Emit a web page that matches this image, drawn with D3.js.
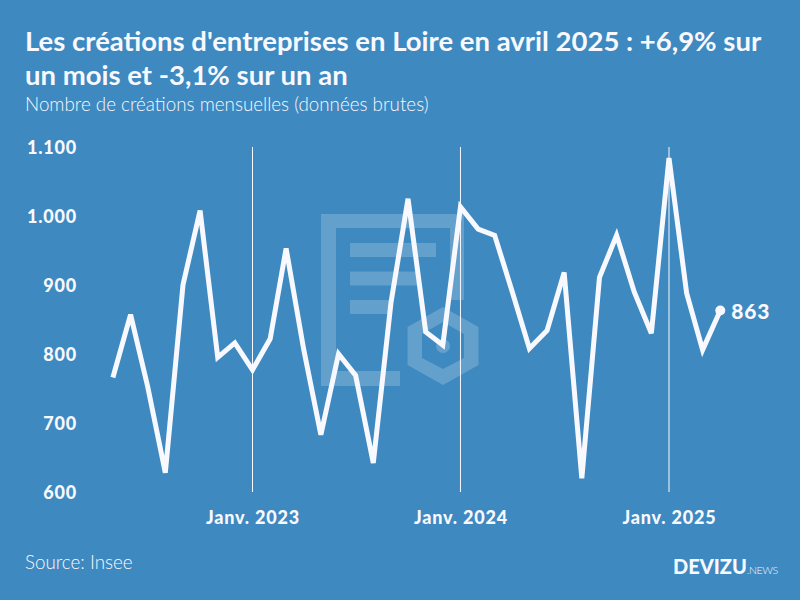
<!DOCTYPE html>
<html>
<head>
    <meta charset="UTF-8">
    <title>Créations d'entreprises Loire</title>
    <script src="https://cdnjs.cloudflare.com/ajax/libs/d3/7.8.5/d3.min.js"></script>
    <style>
        html, body { margin: 0; padding: 0; background: #3e89c0; }
        svg { display: block; }
        text { font-family: Lato, sans-serif; fill: #f8f8ff; }
        .title { font-size: 27.5px; font-weight: 700; }
        .subtitle { font-size: 18.8px; font-weight: 300; }
        .axis text { font-size: 18px; font-weight: 900; letter-spacing: 0.8px; }
        .axis path, .axis line { display: none; }
        .grid { stroke: #f8f8ff; stroke-width: 1; }
    </style>
</head>
<body>
    <div id="chart"></div>
    <script>
      var months = ["2022-05","2022-06","2022-07","2022-08","2022-09","2022-10","2022-11","2022-12",
                    "2023-01","2023-02","2023-03","2023-04","2023-05","2023-06","2023-07","2023-08","2023-09","2023-10","2023-11","2023-12",
                    "2024-01","2024-02","2024-03","2024-04","2024-05","2024-06","2024-07","2024-08","2024-09","2024-10","2024-11","2024-12",
                    "2025-01","2025-02","2025-03","2025-04"];
      var values = [766,857,753,628,900,1008,795,816,
                    777,822,953,806,683,800,769,642,874,1025,832,813,
                    1013,981,972,890,808,834,918,620,911,972,890,830,
                    1084,888,806,863];
      var yTicks = [600,700,800,900,1000,1100];
      var yearTicks = ["2023-01","2024-01","2025-01"];
      var yearLabels = ["Janv. 2023","Janv. 2024","Janv. 2025"];

      var parse = d3.timeParse("%Y-%m");
      var width = 800, height = 600;

      var svg = d3.select("#chart").append("svg")
          .attr("width", width).attr("height", height);

      var x = d3.scaleTime()
          .domain([parse("2023-01"), parse("2025-01")])
          .range([252.5, 669]);
      var y = d3.scaleLinear().domain([600, 1100]).range([492, 147]);

      // watermark logo behind the chart
      var logo = svg.append("g").attr("fill", "#fff").attr("fill-opacity", 0.2);
      logo.append("path").attr("fill-rule", "evenodd")
          .attr("d", "M321,214H464V300H450V228H336V371H400V386H321Z");
      logo.append("rect").attr("x", 350).attr("y", 243).attr("width", 86).attr("height", 14);
      logo.append("rect").attr("x", 350).attr("y", 271.5).attr("width", 67).attr("height", 14);
      logo.append("rect").attr("x", 350).attr("y", 300).attr("width", 40).attr("height", 14);
      logo.append("path").attr("fill-rule", "evenodd")
          .attr("d", "M443,307L478.5,327V365L443,385L407.5,365V327ZM443,322L422,334V358L443,369L464,358V334Z");
      logo.append("circle").attr("cx", 443).attr("cy", 346).attr("r", 7);

      // titles
      svg.append("text").attr("class", "title").attr("x", 25).attr("y", 51)
          .text("Les créations d'entreprises en Loire en avril 2025 : +6,9% sur");
      svg.append("text").attr("class", "title").attr("x", 25).attr("y", 84.5)
          .text("un mois et -3,1% sur un an");
      svg.append("text").attr("class", "subtitle").attr("x", 25).attr("y", 111)
          .text("Nombre de créations mensuelles (données brutes)");

      // vertical year lines
      svg.selectAll(".grid").data(yearTicks).enter().append("line")
          .attr("class", "grid")
          .attr("x1", function(d){ return x(parse(d)); })
          .attr("x2", function(d){ return x(parse(d)); })
          .attr("y1", y(1100)).attr("y2", y(600));

      // axes
      var yAxis = d3.axisLeft(y).tickValues(yTicks)
          .tickFormat(function(d){ return d3.format(",")(d).replace(",", "."); });
      svg.append("g").attr("class", "axis").attr("transform", "translate(77,0)").call(yAxis)
          .selectAll("text").attr("x", 0).attr("text-anchor", "end").attr("dy", "0.35em");

      var xAxis = d3.axisBottom(x).tickValues(yearTicks.map(parse))
          .tickFormat(function(d, i){ return yearLabels[i]; });
      svg.append("g").attr("class", "axis").attr("transform", "translate(0,492)").call(xAxis)
          .selectAll("text").attr("y", 32).attr("dy", 0);

      // series
      var line = d3.line()
          .x(function(d, i){ return x(parse(months[i])); })
          .y(function(d){ return y(d); });
      svg.append("path").datum(values)
          .attr("fill", "none").attr("stroke", "#f8f8ff").attr("stroke-width", 5)
          .attr("stroke-miterlimit", 3.3)
          .attr("d", line);

      var lastX = x(parse(months[months.length - 1]));
      var lastY = y(values[values.length - 1]);
      svg.append("circle").attr("cx", lastX).attr("cy", lastY).attr("r", 5).attr("fill", "#f8f8ff");
      svg.append("text").attr("x", lastX + 11).attr("y", lastY + 1.5).attr("dy", "0.35em")
          .style("font-size", "21px").style("font-weight", 900).style("letter-spacing", "0.8px")
          .text(values[values.length - 1]);

      // footer
      svg.append("text").attr("x", 25).attr("y", 569)
          .style("font-size", "18.8px").style("font-weight", 300).text("Source: Insee");
      var brand = svg.append("text").attr("x", 673).attr("y", 574);
      brand.append("tspan").style("font-size", "20px").style("font-weight", 900).text("DEVIZU");
      brand.append("tspan").style("font-size", "10.5px").style("font-weight", 300)
          .style("letter-spacing", "-0.4px").text(".NEWS");
    </script>
</body>
</html>
